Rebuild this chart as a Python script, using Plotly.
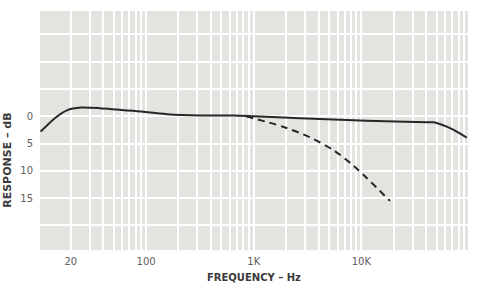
import plotly.graph_objects as go

# Solid curve: frequency (Hz) vs response (dB, down is positive)
solid_freq = [10.5, 14.3, 18.4, 25, 37, 76, 156, 318, 650, 1000, 2690, 11200, 40700, 46700, 62000, 76800, 95000]
solid_db = [2.8, 0.3, -1.1, -1.6, -1.5, -1.0, -0.4, -0.15, -0.15, 0.0, 0.35, 0.8, 1.07, 1.1, 1.9, 2.8, 3.9]

# Dashed curve
dash_freq = [850, 1860, 3300, 5500, 8400, 11200, 18400]
dash_db = [0.0, 1.9, 3.8, 6.2, 9.0, 11.3, 15.5]

x_tickvals = [20, 100, 1000, 10000]
x_ticktext = ["20", "100", "1K", "10K"]
y_tickvals = [0, 5, 10, 15]
y_ticktext = ["0", "5", "10", "15"]

x_minor_grid = [k * 10 ** d for d in range(1, 5) for k in range(1, 10)] + [100000]
y_minor_grid = [-20, -15, -10, -5, 20, 25]

fig = go.Figure()
fig.add_trace(go.Scatter(x=solid_freq, y=solid_db, mode="lines",
                         line=dict(color="#262626", width=2, shape="spline", smoothing=0.6),
                         showlegend=False, hoverinfo="skip"))
fig.add_trace(go.Scatter(x=dash_freq, y=dash_db, mode="lines",
                         line=dict(color="#262626", width=2, dash="7px,5px", shape="spline", smoothing=0.8),
                         showlegend=False, hoverinfo="skip"))

fig.update_layout(
    width=478, height=292,
    margin=dict(l=40, r=10, t=11, b=42),
    paper_bgcolor="white",
    plot_bgcolor="#e3e4df",
    font=dict(family="DejaVu Sans", color="#606060", size=10),
    annotations=[
        dict(text="<b>FREQUENCY – Hz</b>", xref="paper", yref="paper", x=0.5, y=-0.117,
             xanchor="center", yanchor="middle", showarrow=False,
             font=dict(size=10, color="#3a3a3a", family="DejaVu Sans")),
        dict(text="<b>RESPONSE – dB</b>", xref="paper", yref="paper", x=-0.075, y=0.377,
             xanchor="center", yanchor="middle", showarrow=False, textangle=-90,
             font=dict(size=11, color="#3a3a3a", family="DejaVu Sans")),
    ],
)
fig.update_xaxes(type="log", range=[1.015, 4.99],
                 tickvals=x_tickvals, ticktext=x_ticktext,
                 showgrid=False, zeroline=False, showline=False, ticks="",
                 ticklabelstandoff=4,
                 minor=dict(tickvals=x_minor_grid, showgrid=True, gridcolor="white", gridwidth=1.5, ticks=""))
fig.update_yaxes(range=[24.5, -19.3],
                 tickvals=y_tickvals, ticktext=y_ticktext,
                 showgrid=True, gridcolor="white", gridwidth=2,
                 zeroline=False, showline=False, ticks="", ticklabelstandoff=6,
                 minor=dict(tickvals=y_minor_grid, showgrid=True, gridcolor="white", gridwidth=2, ticks=""))

fig.write_html("out.html")
